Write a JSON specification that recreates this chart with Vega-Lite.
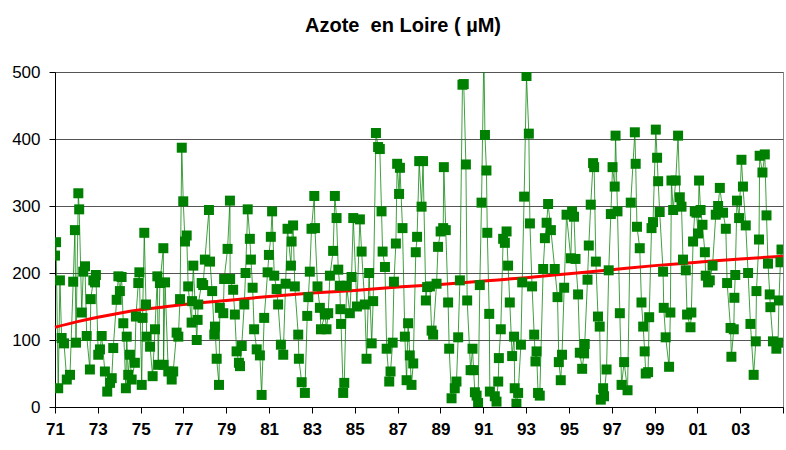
{
"$schema": "https://vega.github.io/schema/vega-lite/v6.json",
"width": 728, "height": 335,
"autosize": "none",
"padding": {"left": 55, "top": 72, "right": 3, "bottom": 43},
"background": "white",
"config": {"view": {"stroke": "#888", "strokeWidth": 1}, "font": "Liberation Sans"},
"title": {"text": "Azote\u00a0 en Loire ( µM)", "fontSize": 20, "fontWeight": "bold", "font": "Liberation Sans", "color": "black", "offset": 27, "dx": -16, "anchor": "middle"},
"datasets": {
"obs": [
{"annee":1971.00,"azote":226},{"annee":1971.05,"azote":246},{"annee":1971.15,"azote":28},{"annee":1971.23,"azote":189},{"annee":1971.31,"azote":103},{"annee":1971.42,"azote":95},{"annee":1971.55,"azote":41},{"annee":1971.70,"azote":48},{"annee":1971.85,"azote":187},{"annee":1971.93,"azote":264},{"annee":1971.98,"azote":96},{"annee":1972.09,"azote":319},{"annee":1972.13,"azote":295},{"annee":1972.25,"azote":141},{"annee":1972.32,"azote":202},{"annee":1972.40,"azote":210},{"annee":1972.48,"azote":106},{"annee":1972.63,"azote":56},{"annee":1972.67,"azote":161},{"annee":1972.79,"azote":189},{"annee":1972.87,"azote":186},{"annee":1972.91,"azote":197},
{"annee":1973.02,"azote":78},{"annee":1973.10,"azote":86},{"annee":1973.18,"azote":106},{"annee":1973.33,"azote":53},{"annee":1973.44,"azote":23},{"annee":1973.57,"azote":36},{"annee":1973.65,"azote":43},{"annee":1973.72,"azote":88},{"annee":1973.88,"azote":160},{"annee":1973.96,"azote":195},{"annee":1974.03,"azote":173},{"annee":1974.11,"azote":194},{"annee":1974.19,"azote":125},{"annee":1974.31,"azote":28},{"annee":1974.35,"azote":105},{"annee":1974.42,"azote":48},{"annee":1974.50,"azote":78},{"annee":1974.58,"azote":41},{"annee":1974.73,"azote":66},{"annee":1974.78,"azote":135},{"annee":1974.89,"azote":185},{"annee":1974.94,"azote":201},
{"annee":1975.05,"azote":33},{"annee":1975.09,"azote":133},{"annee":1975.17,"azote":260},{"annee":1975.25,"azote":153},{"annee":1975.28,"azote":105},{"annee":1975.44,"azote":90},{"annee":1975.56,"azote":46},{"annee":1975.67,"azote":116},{"annee":1975.78,"azote":195},{"annee":1975.82,"azote":63},{"annee":1975.90,"azote":185},{"annee":1976.06,"azote":237},{"annee":1976.07,"azote":63},{"annee":1976.14,"azote":186},{"annee":1976.29,"azote":53},{"annee":1976.45,"azote":41},{"annee":1976.52,"azote":53},{"annee":1976.68,"azote":111},{"annee":1976.76,"azote":105},{"annee":1976.84,"azote":161},{"annee":1976.92,"azote":387},{"annee":1976.99,"azote":307},
{"annee":1977.07,"azote":247},{"annee":1977.15,"azote":256},{"annee":1977.22,"azote":180},{"annee":1977.38,"azote":126},{"annee":1977.40,"azote":158},{"annee":1977.46,"azote":211},{"annee":1977.62,"azote":100},{"annee":1977.66,"azote":130},{"annee":1977.69,"azote":153},{"annee":1977.85,"azote":185},{"annee":1977.92,"azote":182},{"annee":1978.00,"azote":220},{"annee":1978.19,"azote":294},{"annee":1978.24,"azote":217},{"annee":1978.34,"azote":173},{"annee":1978.44,"azote":108},{"annee":1978.47,"azote":120},{"annee":1978.55,"azote":72},{"annee":1978.66,"azote":33},{"annee":1978.70,"azote":148},{"annee":1978.86,"azote":140},{"annee":1978.90,"azote":191},
{"annee":1979.06,"azote":236},{"annee":1979.17,"azote":308},{"annee":1979.18,"azote":191},{"annee":1979.32,"azote":175},{"annee":1979.40,"azote":138},{"annee":1979.48,"azote":83},{"annee":1979.59,"azote":66},{"annee":1979.64,"azote":61},{"annee":1979.72,"azote":91},{"annee":1979.84,"azote":153},{"annee":1979.90,"azote":200},{"annee":1980.00,"azote":295},{"annee":1980.10,"azote":251},{"annee":1980.15,"azote":220},{"annee":1980.23,"azote":178},{"annee":1980.30,"azote":116},{"annee":1980.42,"azote":86},{"annee":1980.57,"azote":77},{"annee":1980.65,"azote":18},{"annee":1980.77,"azote":133},{"annee":1980.93,"azote":201},{"annee":1980.99,"azote":227},
{"annee":1981.08,"azote":254},{"annee":1981.14,"azote":292},{"annee":1981.24,"azote":196},{"annee":1981.35,"azote":176},{"annee":1981.42,"azote":153},{"annee":1981.55,"azote":93},{"annee":1981.66,"azote":78},{"annee":1981.77,"azote":184},{"annee":1981.86,"azote":266},{"annee":1982.02,"azote":211},{"annee":1982.05,"azote":247},{"annee":1982.12,"azote":271},{"annee":1982.20,"azote":180},{"annee":1982.36,"azote":108},{"annee":1982.39,"azote":72},{"annee":1982.52,"azote":37},{"annee":1982.67,"azote":21},{"annee":1982.78,"azote":136},{"annee":1982.83,"azote":164},{"annee":1982.90,"azote":202},{"annee":1982.98,"azote":266},
{"annee":1983.11,"azote":315},{"annee":1983.14,"azote":267},{"annee":1983.26,"azote":180},{"annee":1983.37,"azote":148},{"annee":1983.42,"azote":116},{"annee":1983.61,"azote":138},{"annee":1983.68,"azote":116},{"annee":1983.76,"azote":140},{"annee":1983.84,"azote":196},{"annee":1983.99,"azote":233},{"annee":1984.07,"azote":315},{"annee":1984.15,"azote":282},{"annee":1984.23,"azote":205},{"annee":1984.30,"azote":181},{"annee":1984.33,"azote":146},{"annee":1984.36,"azote":124},{"annee":1984.46,"azote":21},{"annee":1984.51,"azote":36},{"annee":1984.62,"azote":181},{"annee":1984.77,"azote":140},{"annee":1984.85,"azote":194},{"annee":1984.93,"azote":282},
{"annee":1985.10,"azote":150},{"annee":1985.24,"azote":280},{"annee":1985.32,"azote":232},{"annee":1985.47,"azote":153},{"annee":1985.55,"azote":72},{"annee":1985.67,"azote":200},{"annee":1985.79,"azote":95},{"annee":1985.86,"azote":158},{"annee":1985.99,"azote":409},{"annee":1986.09,"azote":388},{"annee":1986.17,"azote":385},{"annee":1986.25,"azote":292},{"annee":1986.30,"azote":232},{"annee":1986.41,"azote":209},{"annee":1986.49,"azote":87},{"annee":1986.61,"azote":38},{"annee":1986.67,"azote":53},{"annee":1986.77,"azote":96},{"annee":1986.83,"azote":187},{"annee":1986.92,"azote":244},{"annee":1986.98,"azote":363},
{"annee":1987.07,"azote":318},{"annee":1987.11,"azote":357},{"annee":1987.23,"azote":267},{"annee":1987.34,"azote":105},{"annee":1987.42,"azote":40},{"annee":1987.49,"azote":125},{"annee":1987.57,"azote":77},{"annee":1987.65,"azote":33},{"annee":1987.73,"azote":65},{"annee":1987.85,"azote":231},{"annee":1987.91,"azote":254},{"annee":1988.01,"azote":367},{"annee":1988.12,"azote":299},{"annee":1988.19,"azote":367},{"annee":1988.32,"azote":159},{"annee":1988.38,"azote":179},{"annee":1988.51,"azote":180},{"annee":1988.59,"azote":114},{"annee":1988.66,"azote":108},{"annee":1988.82,"azote":184},{"annee":1988.89,"azote":239},
{"annee":1989.01,"azote":262},{"annee":1989.13,"azote":267},{"annee":1989.16,"azote":358},{"annee":1989.25,"azote":264},{"annee":1989.36,"azote":156},{"annee":1989.41,"azote":87},{"annee":1989.52,"azote":13},{"annee":1989.67,"azote":28},{"annee":1989.75,"azote":38},{"annee":1989.83,"azote":104},{"annee":1989.91,"azote":189},{"annee":1990.03,"azote":481},{"annee":1990.09,"azote":482},{"annee":1990.19,"azote":362},{"annee":1990.25,"azote":159},{"annee":1990.41,"azote":55},{"annee":1990.50,"azote":87},{"annee":1990.55,"azote":55},{"annee":1990.61,"azote":22},{"annee":1990.69,"azote":17},{"annee":1990.76,"azote":6},{"annee":1990.84,"azote":182},{"annee":1990.92,"azote":305},
{"annee":1991.03,"azote":530},{"annee":1991.08,"azote":406},{"annee":1991.15,"azote":353},{"annee":1991.19,"azote":260},{"annee":1991.28,"azote":139},{"annee":1991.31,"azote":23},{"annee":1991.54,"azote":16},{"annee":1991.62,"azote":8},{"annee":1991.70,"azote":38},{"annee":1991.73,"azote":73},{"annee":1991.82,"azote":116},{"annee":1991.93,"azote":251},{"annee":1992.01,"azote":245},{"annee":1992.09,"azote":262},{"annee":1992.16,"azote":211},{"annee":1992.24,"azote":156},{"annee":1992.35,"azote":76},{"annee":1992.44,"azote":105},{"annee":1992.47,"azote":28},{"annee":1992.55,"azote":5},{"annee":1992.63,"azote":21},{"annee":1992.76,"azote":93},{"annee":1992.82,"azote":186},{"annee":1992.91,"azote":314},
{"annee":1993.02,"azote":494},{"annee":1993.13,"azote":408},{"annee":1993.18,"azote":274},{"annee":1993.28,"azote":180},{"annee":1993.38,"azote":108},{"annee":1993.44,"azote":68},{"annee":1993.49,"azote":83},{"annee":1993.56,"azote":21},{"annee":1993.64,"azote":17},{"annee":1993.80,"azote":206},{"annee":1993.88,"azote":252},{"annee":1993.96,"azote":275},{"annee":1994.03,"azote":303},{"annee":1994.16,"azote":264},{"annee":1994.34,"azote":206},{"annee":1994.47,"azote":164},{"annee":1994.53,"azote":67},{"annee":1994.62,"azote":40},{"annee":1994.68,"azote":78},{"annee":1994.78,"azote":178},{"annee":1994.89,"azote":287},
{"annee":1995.09,"azote":222},{"annee":1995.15,"azote":292},{"annee":1995.24,"azote":284},{"annee":1995.31,"azote":221},{"annee":1995.43,"azote":168},{"annee":1995.51,"azote":81},{"annee":1995.62,"azote":57},{"annee":1995.71,"azote":80},{"annee":1995.74,"azote":94},{"annee":1995.87,"azote":190},{"annee":1995.93,"azote":241},{"annee":1996.02,"azote":302},{"annee":1996.13,"azote":364},{"annee":1996.18,"azote":358},{"annee":1996.26,"azote":217},{"annee":1996.36,"azote":135},{"annee":1996.44,"azote":120},{"annee":1996.49,"azote":11},{"annee":1996.60,"azote":28},{"annee":1996.64,"azote":16},{"annee":1996.76,"azote":56},{"annee":1996.86,"azote":204},{"annee":1996.96,"azote":288},
{"annee":1997.04,"azote":358},{"annee":1997.14,"azote":329},{"annee":1997.18,"azote":405},{"annee":1997.27,"azote":292},{"annee":1997.38,"azote":140},{"annee":1997.46,"azote":33},{"annee":1997.58,"azote":67},{"annee":1997.74,"azote":25},{"annee":1997.89,"azote":305},{"annee":1998.08,"azote":410},{"annee":1998.12,"azote":363},{"annee":1998.18,"azote":269},{"annee":1998.31,"azote":237},{"annee":1998.39,"azote":156},{"annee":1998.47,"azote":120},{"annee":1998.54,"azote":83},{"annee":1998.59,"azote":50},{"annee":1998.70,"azote":52},{"annee":1998.75,"azote":134},{"annee":1998.86,"azote":267},{"annee":1998.93,"azote":276},
{"annee":1999.06,"azote":414},{"annee":1999.12,"azote":372},{"annee":1999.17,"azote":337},{"annee":1999.24,"azote":291},{"annee":1999.40,"azote":202},{"annee":1999.43,"azote":148},{"annee":1999.52,"azote":104},{"annee":1999.68,"azote":60},{"annee":1999.74,"azote":141},{"annee":1999.79,"azote":338},{"annee":1999.87,"azote":294},{"annee":1999.99,"azote":338},{"annee":2000.10,"azote":405},{"annee":2000.18,"azote":313},{"annee":2000.26,"azote":299},{"annee":2000.33,"azote":220},{"annee":2000.46,"azote":204},{"annee":2000.52,"azote":138},{"annee":2000.68,"azote":119},{"annee":2000.72,"azote":141},{"annee":2000.80,"azote":247},{"annee":2000.88,"azote":292},{"annee":2000.96,"azote":290},
{"annee":2001.03,"azote":259},{"annee":2001.08,"azote":338},{"annee":2001.15,"azote":294},{"annee":2001.24,"azote":272},{"annee":2001.35,"azote":231},{"annee":2001.39,"azote":196},{"annee":2001.50,"azote":186},{"annee":2001.58,"azote":189},{"annee":2001.71,"azote":211},{"annee":2001.86,"azote":287},{"annee":2001.97,"azote":300},{"annee":2002.05,"azote":327},{"annee":2002.20,"azote":290},{"annee":2002.33,"azote":266},{"annee":2002.39,"azote":185},{"annee":2002.55,"azote":118},{"annee":2002.59,"azote":75},{"annee":2002.70,"azote":116},{"annee":2002.73,"azote":163},{"annee":2002.77,"azote":197},{"annee":2002.85,"azote":308},{"annee":2002.95,"azote":282},
{"annee":2003.06,"azote":369},{"annee":2003.13,"azote":329},{"annee":2003.26,"azote":271},{"annee":2003.37,"azote":200},{"annee":2003.48,"azote":124},{"annee":2003.63,"azote":48},{"annee":2003.73,"azote":98},{"annee":2003.76,"azote":173},{"annee":2003.88,"azote":250},{"annee":2003.91,"azote":375},{"annee":2004.04,"azote":350},{"annee":2004.15,"azote":377},{"annee":2004.23,"azote":286},{"annee":2004.30,"azote":214},{"annee":2004.38,"azote":168},{"annee":2004.41,"azote":149},{"annee":2004.53,"azote":98},{"annee":2004.69,"azote":87},{"annee":2004.77,"azote":96},{"annee":2004.81,"azote":159},{"annee":2004.88,"azote":216},{"annee":2004.93,"azote":235}
],
"trend": [
{"annee":1971,"azote":119},{"annee":1972,"azote":127},{"annee":1973,"azote":134},{"annee":1974,"azote":140},{"annee":1975,"azote":145},{"annee":1976,"azote":149},{"annee":1977,"azote":153},{"annee":1979,"azote":159},{"annee":1981,"azote":165},{"annee":1983,"azote":170},{"annee":1985,"azote":174},{"annee":1987,"azote":179},{"annee":1989,"azote":183},{"annee":1991,"azote":188},{"annee":1993,"azote":193},{"annee":1995,"azote":199},{"annee":1997,"azote":205},{"annee":1999,"azote":211},{"annee":2001,"azote":216},{"annee":2003,"azote":221},{"annee":2005,"azote":225}
]
},
"encoding": {
"x": {"field": "annee", "type": "quantitative", "scale": {"domain": [1971, 2005], "nice": false, "zero": false},
 "axis": {"title": null, "grid": false, "values": [1971,1973,1975,1977,1979,1981,1983,1985,1987,1989,1991,1993,1995,1997,1999,2001,2003,2005],
  "labelExpr": "datum.value == 2005 ? '' : slice(toString(datum.value), 2)", "labelOverlap": false, "labelFlush": false,
  "labelFont": "Liberation Sans", "labelFontSize": 17, "labelFontWeight": "bold", "labelColor": "black", "labelPadding": 8,
  "domainColor": "black", "tickColor": "black", "tickSize": 6}},
"y": {"field": "azote", "type": "quantitative", "scale": {"domain": [0, 500], "nice": false},
 "axis": {"title": null, "grid": true, "gridColor": "#555", "gridWidth": 1.2, "values": [0,100,200,300,400,500],
  "labelFont": "Liberation Sans", "labelFontSize": 17, "labelColor": "black", "labelPadding": 9,
  "domainColor": "black", "tickColor": "black", "tickSize": 6}}
},
"layer": [
{"data": {"name": "obs"}, "mark": {"type": "line", "color": "#008000", "strokeWidth": 1, "opacity": 0.75, "clip": true}},
{"data": {"name": "trend"}, "mark": {"type": "line", "color": "#ff0000", "strokeWidth": 3, "interpolate": "monotone"}},
{"data": {"name": "obs"}, "mark": {"type": "point", "shape": "square", "filled": true, "size": 100, "color": "#008000", "opacity": 1, "clip": true}}
]
}
